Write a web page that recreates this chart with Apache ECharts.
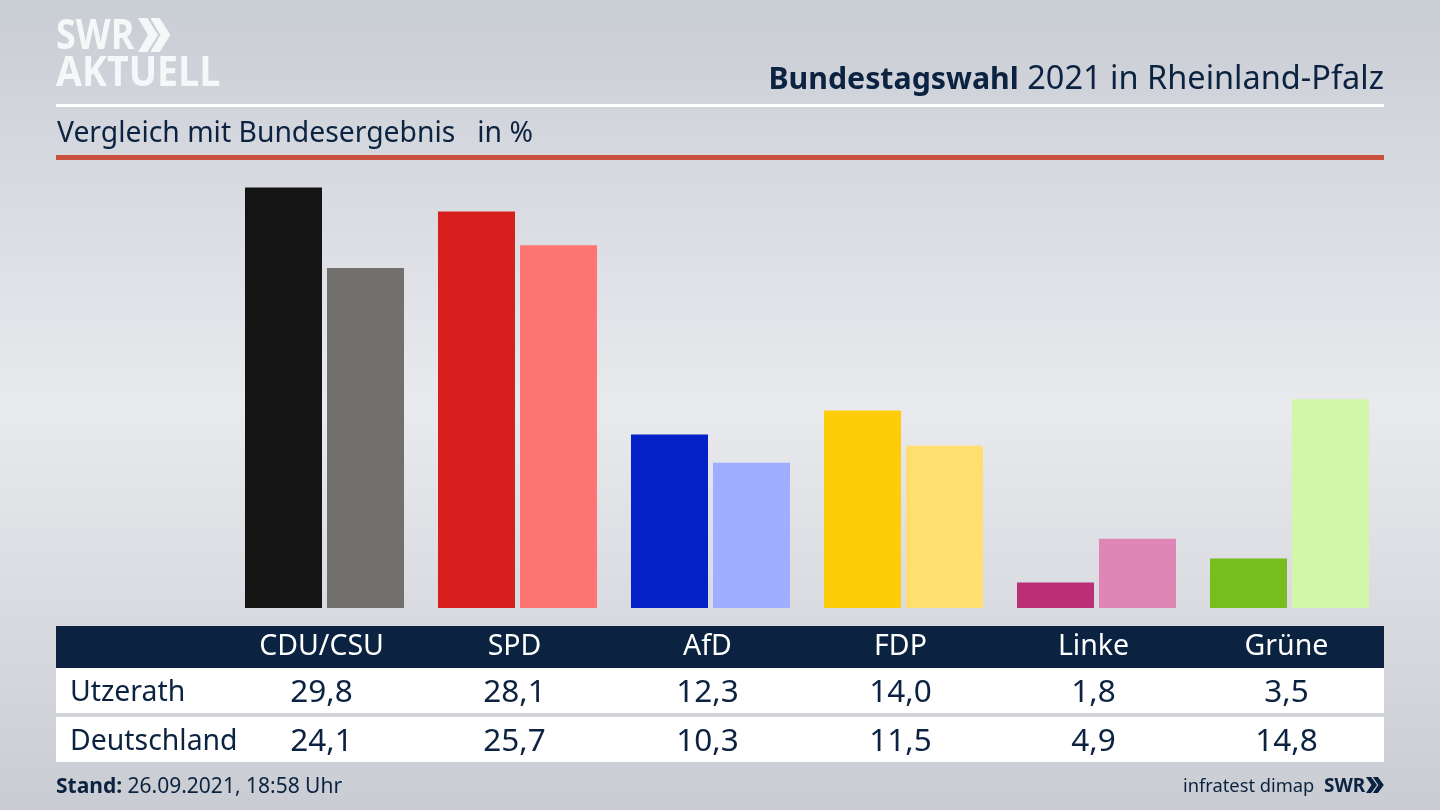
<!DOCTYPE html>
<html><head><meta charset="utf-8">
<style>html,body{margin:0;padding:0;width:1440px;height:810px;overflow:hidden}#c{width:1440px;height:810px}</style>
<script src="https://cdn.jsdelivr.net/npm/echarts@6/dist/echarts.min.js"></script>
</head><body><div id="c"></div>
<script>
const parties = ['CDU/CSU','SPD','AfD','FDP','Linke','Grüne'];
const utzerath = [29.8,28.1,12.3,14.0,1.8,3.5];
const deutschland = [24.1,25.7,10.3,11.5,4.9,14.8];
const rowNames = ['Utzerath','Deutschland'];
const utzerathColors = ['#141414','#d71f1d','#0321c7','#ffcc0a','#bb2f78','#78bd1e'];
const deutschlandColors = ['#71706d','#ff7571','#a0aeff','#ffdf70','#e086b6','#d2f7a8'];

const NAVY = '#0b2240';
const FONT = '"Noto Sans", sans-serif';
const fmt = v => v.toFixed(1).replace('.', ',');
const chart = echarts.init(document.getElementById('c'), null, {renderer:'canvas'});

const rect = (x,y,w,h,fill,z=0) => ({type:'rect',z,silent:true,shape:{x,y,width:w,height:h},style:{fill}});
const text = (x,y,t,size,fill,extra={},el={}) => Object.assign({type:'text',z:5,silent:true,x,y,style:Object.assign({text:t,fontSize:size,fill,fontFamily:FONT,verticalAlign:'middle',align:'left'},extra)},el);
const chevrons = (x,y,w,h,fill) => {
  const c = dx => ({type:'polygon',z:5,silent:true,shape:{points:[[x+dx,y],[x+dx+w*0.46,y],[x+dx+w,y+h/2],[x+dx+w*0.46,y+h],[x+dx,y+h],[x+dx+w*0.5,y+h/2]]},style:{fill}});
  return [c(0),c(w*0.62)];
};
const tableAxis = (labels, margin, color, size) => ({
  type:'category',gridIndex:1,position:'bottom',data:labels,
  axisLine:{show:false},axisTick:{show:false},splitLine:{show:false},
  axisLabel:{interval:0,margin,color,fontSize:size,fontFamily:FONT,verticalAlign:'middle',lineHeight:36}
});

chart.setOption({
  animation:false,
  backgroundColor:{type:'linear',x:0,y:0,x2:0,y2:1,colorStops:[
    {offset:0,color:'#c9cdd4'},{offset:0.5,color:'#e9eaee'},{offset:1,color:'#c9ccd2'}]},
  grid:[
    {left:228,top:184.7,width:1158,height:423.3},
    {left:225,top:184.7,width:1158,height:423.3}
  ],
  xAxis:[
    {type:'category',gridIndex:0,data:parties,show:false},
    tableAxis(parties,39,'#ffffff',28.5),
    tableAxis(utzerath.map(fmt),85,NAVY,31.5),
    tableAxis(deutschland.map(fmt),134,NAVY,31.5)
  ],
  yAxis:[
    {type:'value',gridIndex:0,min:0,max:30,show:false},
    {type:'value',gridIndex:1,min:0,max:30,show:false}
  ],
  series:[
    {type:'bar',name:rowNames[0],barWidth:77,barGap:'6.5%',xAxisIndex:0,yAxisIndex:0,
     data:utzerath.map((v,i)=>({value:v,itemStyle:{color:utzerathColors[i]}}))},
    {type:'bar',name:rowNames[1],barWidth:77,xAxisIndex:0,yAxisIndex:0,
     data:deutschland.map((v,i)=>({value:v,itemStyle:{color:deutschlandColors[i]}}))}
  ],
  graphic:[
    rect(56,104,1328,3,'#ffffff'),
    rect(56,155,1328,5,'#c94f3f'),
    rect(56,626,1328,42,NAVY),
    rect(56,668,1328,45,'#ffffff'),
    rect(56,717,1328,45,'#ffffff'),
    text(56,37,'SWR',36,'#f6f7f8',{fontWeight:'bold',fontFamily:'"Open Sans", sans-serif'},{scaleY:1.15}),
    ...chevrons(138,18,20,34,'#f6f7f8'),
    text(56,74,'AKTUELL',37.6,'#f6f7f8',{fontWeight:'bold',fontFamily:'"Open Sans", sans-serif'},{scaleY:1.1}),
    text(1384,80,'{b|Bundestagswahl} 2021 in Rheinland-Pfalz',32.5,NAVY,{align:'right',rich:{b:{fontWeight:'bold',fontSize:30.3,fill:NAVY,fontFamily:FONT}}}),
    text(57,134,'Vergleich mit Bundesergebnis   in %',28.3,NAVY),
    text(70,693,rowNames[0],28.4,NAVY),
    text(70,742,rowNames[1],28.4,NAVY),
    text(56,787,'{b|Stand:} 26.09.2021, 18:58 Uhr',21,NAVY,{rich:{b:{fontWeight:'bold',fontSize:21,fill:NAVY,fontFamily:FONT}}}),
    text(1183,787,'infratest dimap',18.3,NAVY),
    text(1324,787,'SWR',19,NAVY,{fontWeight:'bold'}),
    ...chevrons(1366,777,11,16,NAVY)
  ]
});
</script></body></html>
